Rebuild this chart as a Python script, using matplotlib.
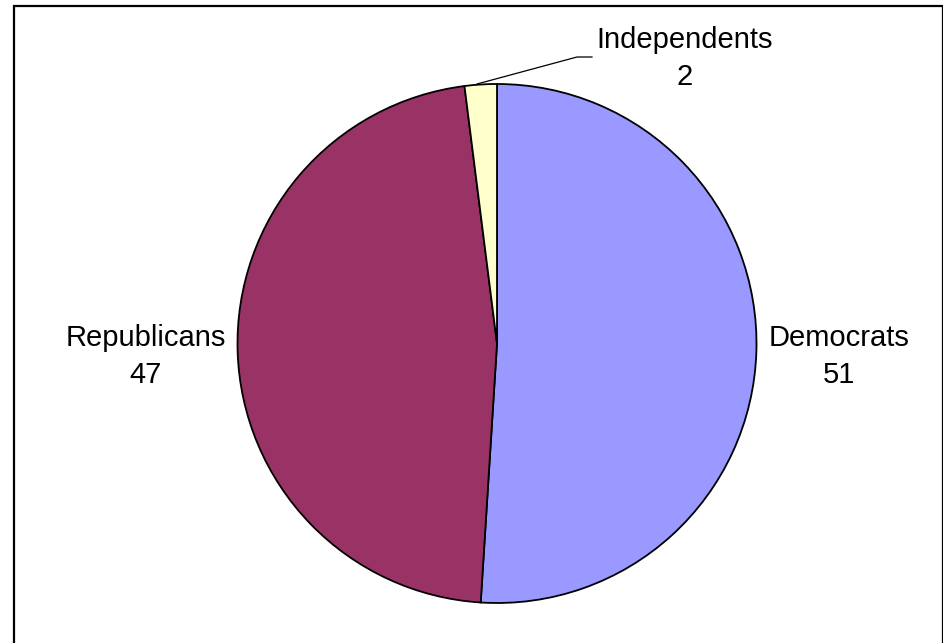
import matplotlib.pyplot as plt
from matplotlib.patches import Rectangle

plt.rcParams['font.family'] = ['Liberation Sans', 'DejaVu Sans']

parties = ['Democrats', 'Republicans', 'Independents']
seats = [51, 47, 2]
colours = ['#9999FF', '#993366', '#FFFFCC']

W, H = 943, 643
fig = plt.figure(figsize=(W / 100, H / 100), dpi=100)
ax = fig.add_axes([0, 0, 1, 1])

# chart area border (runs off the right/bottom of the image)
ax.add_patch(Rectangle((14, -20), 929.2, H - 6 + 20, fill=False,
                       edgecolor='black', linewidth=1.6))

cx, cy, r = 497, H - 343.5, 259.5
ax.pie(seats, colors=colours, startangle=90, counterclock=False,
       center=(cx, cy), radius=r, frame=True,
       wedgeprops=dict(edgecolor='black', linewidth=1.3))
ax.set_xlim(0, W)
ax.set_ylim(0, H)
ax.set_aspect('equal')
ax.axis('off')

# label spots (x centre, baseline of first line, in pixels from top)
label_pos = [(839, 346), (146, 346), (685, 48)]
for name, n, (x, yb) in zip(parties, seats, label_pos):
    ax.text(x, H - yb, name, ha='center', va='baseline', fontsize=21)
    ax.text(x, H - yb - 37, str(n), ha='center', va='baseline', fontsize=21)

# leader line for the small slice
ax.plot([477, 577, 592], [H - 84, H - 57, H - 57], color='black', linewidth=0.9)

plt.savefig('out.png', dpi=100)
